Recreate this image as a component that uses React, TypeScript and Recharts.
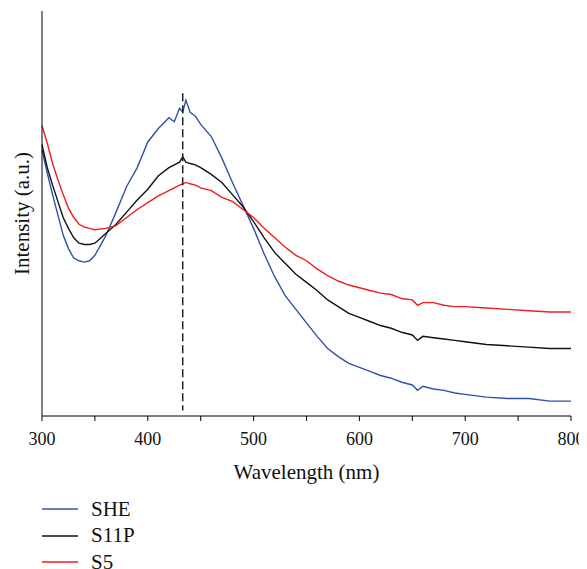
import React from 'react';
import { LineChart, Line, XAxis, YAxis, ReferenceLine, Legend, Label } from 'recharts';

// wavelength grid (nm)
const wavelength = [
  300, 305, 310, 315, 320, 325, 330, 335, 340, 345, 350, 360, 370, 380, 390, 400, 410, 420, 425, 430,
  433, 436, 440, 445, 450, 460, 470, 480, 490, 500, 510, 520, 530, 540, 550, 560, 570, 580, 590, 600,
  610, 620, 630, 640, 650, 655, 660, 670, 680, 690, 700, 720, 740, 760, 780, 800,
];

const she = [
  1.97, 1.8, 1.64, 1.49, 1.34, 1.24, 1.17, 1.15, 1.14, 1.15, 1.19, 1.33, 1.51, 1.7, 1.84, 2.03, 2.13, 2.21, 2.18, 2.28,
  2.25, 2.34, 2.25, 2.22, 2.16, 2.07, 1.91, 1.73, 1.56, 1.39, 1.2, 1.03, 0.89, 0.79, 0.69, 0.59, 0.5, 0.44, 0.39, 0.36,
  0.33, 0.3, 0.28, 0.25, 0.23, 0.19, 0.22, 0.2, 0.19, 0.17, 0.16, 0.14, 0.13, 0.13, 0.11, 0.11,
];

const s11p = [
  2.01, 1.84, 1.71, 1.59, 1.47, 1.39, 1.32, 1.28, 1.27, 1.27, 1.28, 1.35, 1.42, 1.51, 1.6, 1.68, 1.78, 1.84, 1.86, 1.88,
  1.92, 1.88, 1.87, 1.86, 1.84, 1.79, 1.73, 1.64, 1.55, 1.44, 1.32, 1.21, 1.13, 1.05, 0.99, 0.93, 0.86, 0.81, 0.76, 0.73,
  0.7, 0.67, 0.65, 0.62, 0.6, 0.56, 0.59, 0.58, 0.57, 0.56, 0.55, 0.53, 0.52, 0.51, 0.5, 0.5,
];

const s5 = [
  2.15, 2.02, 1.87, 1.75, 1.64, 1.54, 1.47, 1.42, 1.4, 1.39, 1.38, 1.39, 1.41, 1.47, 1.53, 1.58, 1.63, 1.67, 1.69, 1.71,
  1.72, 1.73, 1.72, 1.71, 1.69, 1.67, 1.62, 1.59, 1.53, 1.47, 1.39, 1.32, 1.25, 1.19, 1.15, 1.09, 1.04, 1.0, 0.97, 0.95,
  0.93, 0.91, 0.9, 0.87, 0.86, 0.82, 0.84, 0.84, 0.82, 0.81, 0.81, 0.8, 0.79, 0.78, 0.77, 0.77,
];

const xTicks = [300, 350, 400, 450, 500, 550, 600, 650, 700, 750, 800];
const yTicks = [0, 1, 2, 3];
const peakWavelength = 433;

const series = [
  { key: 'SHE', values: she, color: '#2f52a8' },
  { key: 'S11P', values: s11p, color: '#111111' },
  { key: 'S5', values: s5, color: '#f01e1e' },
];

const data = wavelength.map((w, i) => ({
  wavelength: w,
  SHE: she[i],
  S11P: s11p[i],
  S5: s5[i],
}));

const FONT = '"Liberation Serif", "Times New Roman", serif';

const renderLegend = () => (
  <div style={{ fontFamily: FONT, fontSize: 21, color: '#111' }}>
    {series.map((s) => (
      <div key={s.key} style={{ display: 'flex', alignItems: 'center', height: 26.5 }}>
        <svg width={49} height={4} style={{ flex: 'none' }}>
          <line x1={0} y1={2} x2={36} y2={2} stroke={s.color} strokeWidth={1.3} />
        </svg>
        <span>{s.key}</span>
      </div>
    ))}
  </div>
);

export default function App() {
  return (
    <LineChart
      width={579}
      height={561}
      data={data}
      margin={{ top: 3, right: 16, left: 34, bottom: 0 }}
    >
      <XAxis
        dataKey="wavelength"
        type="number"
        domain={[300, 800]}
        ticks={xTicks}
        interval={0}
        tickFormatter={(v: number) => (v % 100 === 0 ? String(v) : '')}
        stroke="#000"
        tickSize={5}
        tickMargin={11}
        height={73}
        tick={{ fontSize: 18, fill: '#111', fontFamily: FONT }}
      >
        <Label
          content={({ viewBox }: any) => (
            <text
              x={viewBox.x + viewBox.width / 2}
              y={viewBox.y + 56}
              textAnchor="middle"
              dominantBaseline="central"
              fontFamily={FONT}
              fontSize={21}
              fill="#111"
            >
              Wavelength (nm)
            </text>
          )}
        />
      </XAxis>
      <YAxis
        type="number"
        domain={[0, 3]}
        ticks={yTicks}
        tick={false}
        tickSize={2}
        mirror
        stroke="#000"
      >
        <Label
          content={({ viewBox }: any) => (
            <text
              transform={`translate(14, ${viewBox.y + viewBox.height / 2}) rotate(-90)`}
              textAnchor="middle"
              dominantBaseline="central"
              fontFamily={FONT}
              fontSize={21}
              fill="#111"
            >
              Intensity (a.u.)
            </text>
          )}
        />
      </YAxis>
      <Legend
        content={renderLegend}
        layout="horizontal"
        verticalAlign="bottom"
        align="left"
        wrapperStyle={{ top: 488, left: 34, bottom: 'auto', height: 80, width: 200 }}
      />
      {series.map((s) => (
        <Line
          key={s.key}
          dataKey={s.key}
          stroke={s.color}
          strokeWidth={1.4}
          dot={false}
          isAnimationActive={false}
          type="linear"
        />
      ))}
      <ReferenceLine
        segment={[
          { x: peakWavelength, y: 2.39 },
          { x: peakWavelength, y: 0.04 },
        ]}
        stroke="#222"
        strokeWidth={1.5}
        strokeDasharray="8 4"
      />
    </LineChart>
  );
}
